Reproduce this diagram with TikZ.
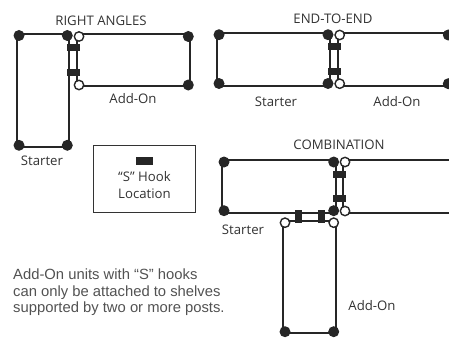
\documentclass[tikz,border=0pt]{standalone}
\usepackage{fontspec}
\setmainfont{Open Sans}
\newfontfamily\notefont{Liberation Sans}
\definecolor{inkgray}{gray}{0.2}
\definecolor{notegray}{gray}{0.32}
\begin{document}
\begin{tikzpicture}[x=1pt,y=-1pt]
	\tikzset{post/.style = {shape=circle,fill=black!85,inner sep=0pt,minimum size=11pt}}
	\tikzset{addpost/.style = {shape=circle,draw=black!85,fill=white,line width=1.4pt,inner sep=0pt,minimum size=9.4pt}}
	\tikzset{shelf/.style = {draw=black!85,line width=2pt,line join=miter}}
	\tikzset{hookh/.style = {shape=rectangle,fill=black!85,inner sep=0pt,minimum width=13pt,minimum height=7pt}}
	\tikzset{hookv/.style = {shape=rectangle,fill=black!85,inner sep=0pt,minimum width=7pt,minimum height=13pt}}
	\tikzset{tag/.style = {text=inkgray,font=\fontsize{13.2}{17}\selectfont,inner sep=0pt}}
	\useasboundingbox (0,0) rectangle (449,337);
	% right angles
	\coordinate (rsa) at (19,35.5);
	\coordinate (rsb) at (67.3,35.5);
	\coordinate (rsc) at (67.3,145.3);
	\coordinate (rsd) at (19,145.3);
	\coordinate (raa) at (79,36.5);
	\coordinate (rab) at (188.3,36.5);
	\coordinate (rac) at (188.3,85);
	\coordinate (rad) at (79,85);
	\draw[shelf] ([shift={(-2.3,-1.8)}]rsa) -- ([shift={(2,-1.8)}]rsb) -- ([shift={(2,1.4)}]rsc) -- ([shift={(-2.3,1.4)}]rsd) -- cycle;
	\draw[shelf] ([shift={(-1.7,-2.8)}]raa) -- ([shift={(1.7,-2.8)}]rab) -- ([shift={(1.7,1.3)}]rac) -- ([shift={(-1.7,1.3)}]rad) -- cycle;
	\node[post] (rspa) at (rsa) {};
	\node[post] (rspb) at (rsb) {};
	\node[post] (rspc) at (rsc) {};
	\node[post] (rspd) at (rsd) {};
	\node[addpost] (rapa) at (raa) {};
	\node[post] (rapb) at (rab) {};
	\node[post] (rapc) at (rac) {};
	\node[addpost] (rapd) at (rad) {};
	\node[hookh] (rha) at (73.3,48) {};
	\node[hookh] (rhb) at (73.3,72) {};
	\node[tag] (rtitle) at (101,21) {RIGHT ANGLES};
	\node[tag] (rstarter) at (42,161) {Starter};
	\node[tag] (radd) at (133,99) {Add-On};
	% end to end
	\coordinate (esa) at (219,34.7);
	\coordinate (esb) at (328,34.7);
	\coordinate (esc) at (328,83.5);
	\coordinate (esd) at (219,83.5);
	\coordinate (eaa) at (339.7,35);
	\coordinate (eab) at (448.3,35);
	\coordinate (eac) at (448.3,83.7);
	\coordinate (ead) at (339.7,83.7);
	\draw[shelf] ([shift={(-2,-1.4)}]esa) -- ([shift={(2,-1.4)}]esb) -- ([shift={(2,2.2)}]esc) -- ([shift={(-2,2.2)}]esd) -- cycle;
	\draw[shelf] ([shift={(-1.7,-1.7)}]eaa) -- ([shift={(1.7,-1.7)}]eab) -- ([shift={(1.7,2)}]eac) -- ([shift={(-1.7,2)}]ead) -- cycle;
	\node[post] (espa) at (esa) {};
	\node[post] (espb) at (esb) {};
	\node[post] (espc) at (esc) {};
	\node[post] (espd) at (esd) {};
	\node[addpost] (eapa) at (eaa) {};
	\node[post] (eapb) at (eab) {};
	\node[post] (eapc) at (eac) {};
	\node[addpost] (eapd) at (ead) {};
	\node[hookh] (eha) at (334,47) {};
	\node[hookh] (ehb) at (334,71) {};
	\node[tag] (etitle) at (333,18.3) {END-TO-END};
	\node[tag] (estarter) at (276,101.5) {Starter};
	\node[tag] (eadd) at (397,101.5) {Add-On};
	% combination
	\coordinate (csa) at (224,162);
	\coordinate (csb) at (333.7,162);
	\coordinate (csc) at (333.7,210.7);
	\coordinate (csd) at (224,210.7);
	\coordinate (caa) at (345,162);
	\coordinate (cad) at (345,211);
	\coordinate (cab) at (449,162);
	\coordinate (cac) at (449,211);
	\coordinate (cba) at (285,222.7);
	\coordinate (cbb) at (333.7,222.7);
	\coordinate (cbc) at (333.7,331.7);
	\coordinate (cbd) at (285,331.7);
	\draw[shelf] ([shift={(-2,-1.7)}]csa) -- ([shift={(2.3,-1.7)}]csb) -- ([shift={(2.3,2)}]csc) -- ([shift={(-2,2)}]csd) -- cycle;
	\draw[shelf] ([shift={(0,-1.7)}]cab) -- ([shift={(-1.7,-1.7)}]caa) -- ([shift={(-1.7,1.7)}]cad) -- ([shift={(0,1.7)}]cac);
	\draw[shelf,line width=1.7pt] ([shift={(-2,-2)}]cba) -- ([shift={(2,-2)}]cbb) -- ([shift={(2,1.3)}]cbc) -- ([shift={(-2,1.3)}]cbd) -- cycle;
	\node[post] (cspa) at (csa) {};
	\node[post] (cspb) at (csb) {};
	\node[post] (cspc) at (csc) {};
	\node[post] (cspd) at (csd) {};
	\node[addpost] (capa) at (caa) {};
	\node[addpost] (capd) at (cad) {};
	\node[addpost] (cbpa) at (cba) {};
	\node[addpost] (cbpb) at (cbb) {};
	\node[post] (cbpc) at (cbc) {};
	\node[post] (cbpd) at (cbd) {};
	\node[hookh] (cha) at (339.3,174) {};
	\node[hookh] (chb) at (339.3,198.3) {};
	\node[hookv] (chc) at (298,216.3) {};
	\node[hookv] (chd) at (321.3,216.3) {};
	\node[tag] (ctitle) at (339,145) {COMBINATION};
	\node[tag] (cstarter) at (243,229.3) {Starter};
	\node[tag] (cadd) at (372,306) {Add-On};
	% legend
	\node[draw=inkgray,line width=0.9pt,minimum width=102pt,minimum height=67pt,inner sep=0pt] (legend) at (144.2,179) {};
	\node[hookh,minimum width=17pt,minimum height=8pt] (lhook) at (144.5,160.7) {};
	\node[tag,align=center] (ltext) at (144.5,185.5) {“S” Hook\\Location};
	% note
	\node[anchor=north west,inner sep=0pt,align=left,text=notegray,font=\notefont\fontsize{14.8}{16.5}\selectfont] (note) at (13,269) {Add-On units with “S” hooks\\can only be attached to shelves\\supported by two or more posts.};
\end{tikzpicture}
\end{document}
